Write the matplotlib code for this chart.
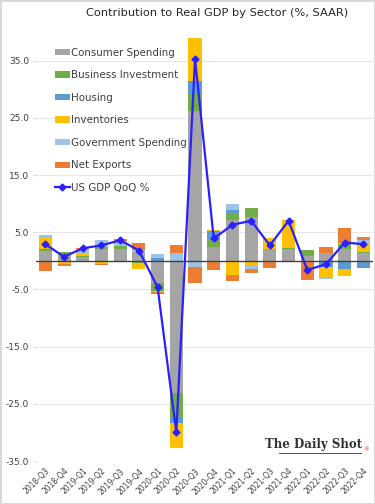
import numpy as np
import matplotlib
matplotlib.use('Agg')
import matplotlib.pyplot as plt
from matplotlib.lines import Line2D

quarters = ['2018-Q3', '2018-Q4', '2019-Q1', '2019-Q2', '2019-Q3', '2019-Q4',
            '2020-Q1', '2020-Q2', '2020-Q3', '2020-Q4', '2021-Q1', '2021-Q2',
            '2021-Q3', '2021-Q4', '2022-Q1', '2022-Q2', '2022-Q3', '2022-Q4']

consumer    = [1.7, 1.0, 0.6, 2.0, 2.1, 1.5, -3.9, -23.1, 26.2, 2.4, 7.1, 7.7, 2.0, 2.1, 0.8, 1.3, 2.1, 1.4]
business    = [0.4, 0.5, 0.2, 0.4, 0.5, -0.3, -1.3, -4.2, 3.1, 1.45, 1.2, 1.45, 0.0, 0.2, 1.05, 0.0, 0.8, 0.2]
housing     = [0.0, -0.2, -0.1, 0.0, 0.0, 0.0, 0.5, -1.1, 2.1, 1.3, 0.6, 0.0, -0.2, 0.0, 0.0, -1.0, -1.4, -1.3]
inventories = [1.9, -0.3, 0.6, -0.6, -0.2, -1.1, -0.3, -4.3, 7.6, 0.3, -2.5, -0.75, 2.0, 4.9, 0.0, -1.8, -1.2, 1.5]
government  = [0.5, 0.0, 0.6, 1.3, 0.8, 0.4, 0.7, 1.4, -1.0, -0.2, 1.0, -0.7, 0.0, 0.0, -0.2, -0.3, 0.2, 0.6]
net_exports = [-1.7, -0.4, 0.3, -0.2, 0.4, 1.3, -0.3, 1.3, -2.8, -1.4, -1.05, -0.75, -1.1, -0.2, -3.2, 1.2, 2.7, 0.5]
gdp         = [2.9, 0.7, 2.2, 2.7, 3.6, 1.8, -4.6, -30.0, 35.3, 3.9, 6.3, 7.0, 2.7, 7.0, -1.6, -0.6, 3.2, 2.9]

series = [('Consumer Spending', consumer, '#A5A5A5'),
          ('Business Investment', business, '#70AD47'),
          ('Housing', housing, '#5B9BD5'),
          ('Inventories', inventories, '#FFC000'),
          ('Government Spending', government, '#9DC3E6'),
          ('Net Exports', net_exports, '#ED7D31')]

fig = plt.figure(figsize=(3.75, 5.04), dpi=100)
fig.patch.set_edgecolor('#d9d9d9')
fig.patch.set_linewidth(2)
ax = fig.add_axes([0.096, 0.0853, 0.898, 0.8512])

x = np.arange(len(quarters))
pos_bottom = np.zeros(len(quarters))
neg_bottom = np.zeros(len(quarters))
for name, vals, col in series:
    v = np.array(vals)
    bottom = np.where(v >= 0, pos_bottom, neg_bottom)
    ax.bar(x, v, 0.7, bottom=bottom, color=col, label=name, zorder=2)
    pos_bottom += np.where(v > 0, v, 0)
    neg_bottom += np.where(v < 0, v, 0)

ax.plot(x, gdp, color='#2b1fff', lw=1.6, marker='D', ms=3.5, label='US GDP QoQ %', zorder=4)
ax.axhline(0, color='#404040', lw=1.0, zorder=3)

ax.set_xlim(-0.5, len(quarters) - 0.5)
ax.set_ylim(-35, 40)
yt = [35, 25, 15, 5, -5, -15, -25, -35]
ax.set_yticks(yt)
ax.set_yticklabels(['%.1f' % t for t in yt])
ax.yaxis.grid(True, color='#e6e6e6', lw=0.8, zorder=0)
ax.set_axisbelow(True)
ax.set_xticks(x)
ax.set_xticklabels(quarters, rotation=45, ha='right', rotation_mode='anchor')
ax.tick_params(axis='x', length=0, labelsize=5.5, colors='#404040', pad=4)
ax.tick_params(axis='y', length=2, color='#d9d9d9', labelsize=6.5, colors='#404040', pad=3)
for s in ax.spines.values():
    s.set_visible(False)

handles, labels = ax.get_legend_handles_labels()
handles = handles[1:] + handles[:1]
labels = labels[1:] + labels[:1]
ax.legend(handles, labels, loc='upper left', bbox_to_anchor=(0.045, 0.973), frameon=False,
          fontsize=7.4, labelcolor='#404040', labelspacing=1.22, handlelength=1.4,
          handleheight=0.6, handletextpad=0.15, borderaxespad=0)

fig.suptitle('Contribution to Real GDP by Sector (%, SAAR)', x=0.58, y=0.985,
             fontsize=8.2, color='#262626')

fig.text(0.965, 0.105, 'The Daily Shot', ha='right', va='bottom', fontsize=8.5,
         fontweight='bold', family='DejaVu Serif', color='#333333')
fig.text(0.968, 0.103, '\u00ae', ha='left', va='bottom', fontsize=4, color='#e02020')
fig.add_artist(Line2D([0.745, 0.962], [0.101, 0.101], color='#333333', lw=0.6))

fig.savefig('out.png', dpi=100)
